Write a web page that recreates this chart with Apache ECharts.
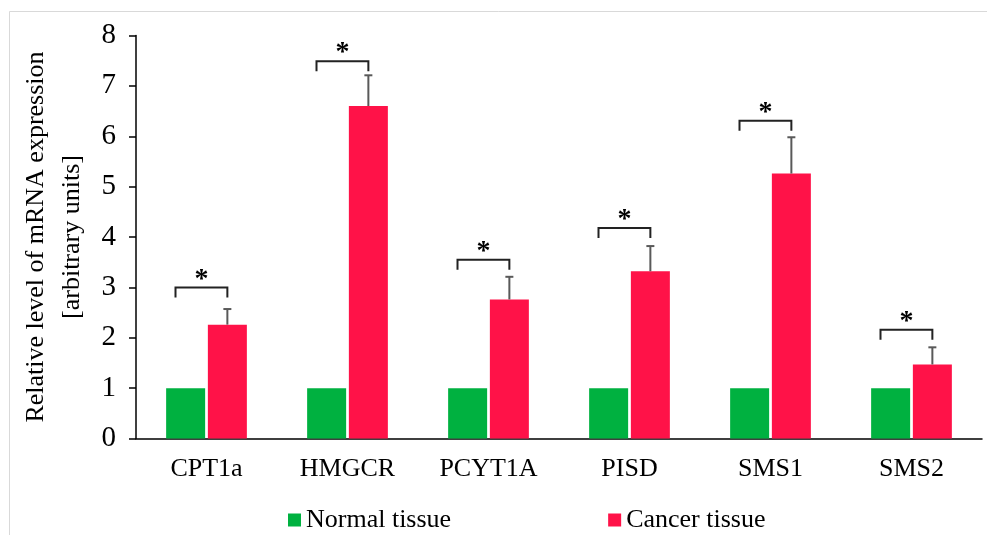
<!DOCTYPE html>
<html>
<head>
<meta charset="utf-8">
<script src="https://cdn.jsdelivr.net/npm/echarts@6/dist/echarts.min.js"></script>
<style>
  html, body { margin: 0; padding: 0; background: #fff; }
  #chart { width: 987px; height: 535px; }
</style>
</head>
<body>
<div id="chart"></div>
<script>
var genes = ['CPT1a', 'HMGCR', 'PCYT1A', 'PISD', 'SMS1', 'SMS2'];
var normalTissue = [1, 1, 1, 1, 1, 1];
var cancerTissue = [2.26, 6.60, 2.76, 3.32, 5.26, 1.47];
var cancerSD = [0.31, 0.61, 0.45, 0.50, 0.72, 0.34];
var bracketLevel = [3.0, 7.49, 3.55, 4.18, 6.31, 2.16];
var yTicks = [0, 1, 2, 3, 4, 5, 6, 7, 8];

(function () {
    var chart = echarts.init(document.getElementById('chart'));
    var font = '"Liberation Serif", "Times New Roman", serif';
    var barW = 39;
    var gapPct = 7;
    // 红柱中心相对类目中心的偏移
    var redShift = (barW + barW * gapPct / 100) / 2;

    var errData = genes.map(function (g, i) {
        return [i, cancerTissue[i], cancerTissue[i] + cancerSD[i]];
    });
    var sigData = genes.map(function (g, i) {
        return [i, bracketLevel[i]];
    });

    var option = {
        backgroundColor: '#fff',
        animation: false,
        graphic: [
            {
                type: 'rect',
                shape: { x: 9.5, y: 11.5, width: 1200, height: 800 },
                style: { fill: 'none', stroke: '#d9d9d9', lineWidth: 1 },
                silent: true
            }
        ],
        grid: {
            left: 136,
            right: 5,
            top: 35.5,
            bottom: 96.5
        },
        legend: {
            left: 283,
            top: 502,
            itemWidth: 13,
            itemHeight: 13,
            itemGap: 157,
            icon: 'rect',
            textStyle: { fontFamily: font, fontSize: 26, color: '#000' },
            data: ['Normal tissue', 'Cancer tissue']
        },
        xAxis: {
            type: 'category',
            data: genes,
            axisTick: { show: false },
            axisLine: { lineStyle: { color: '#000', width: 1.5 } },
            axisLabel: { fontFamily: font, fontSize: 26, color: '#000', margin: 18 }
        },
        yAxis: {
            type: 'value',
            min: yTicks[0],
            max: yTicks[yTicks.length - 1],
            interval: 1,
            name: 'Relative level of mRNA expression\n[arbitrary units]',
            nameLocation: 'middle',
            nameRotate: 90,
            nameGap: 41,
            nameTextStyle: { fontFamily: font, fontSize: 26, color: '#000', lineHeight: 36 },
            splitLine: { show: false },
            axisLine: { show: true, lineStyle: { color: '#000', width: 1.5 } },
            axisTick: { show: true, length: 7, lineStyle: { color: '#000', width: 1.5 } },
            axisLabel: { fontFamily: font, fontSize: 29, color: '#000', margin: 20 }
        },
        series: [
            {
                name: 'Normal tissue',
                type: 'bar',
                barWidth: barW,
                barGap: gapPct + '%',
                itemStyle: { color: '#00b140' },
                data: normalTissue
            },
            {
                name: 'Cancer tissue',
                type: 'bar',
                barWidth: barW,
                barGap: gapPct + '%',
                itemStyle: { color: '#ff1248' },
                data: cancerTissue
            },
            {
                // 误差线
                type: 'custom',
                data: errData,
                z: 5,
                encode: { x: 0, y: [1, 2] },
                renderItem: function (params, api) {
                    var i = api.value(0);
                    var base = api.coord([i, api.value(1)]);
                    var top = api.coord([i, api.value(2)]);
                    var x = base[0] + redShift;
                    var st = { stroke: '#595959', lineWidth: 2 };
                    return {
                        type: 'group',
                        children: [
                            { type: 'line', shape: { x1: x, y1: base[1], x2: x, y2: top[1] }, style: st },
                            { type: 'line', shape: { x1: x - 4, y1: top[1], x2: x + 4, y2: top[1] }, style: st }
                        ]
                    };
                }
            },
            {
                // 显著性标记
                type: 'custom',
                data: sigData,
                z: 5,
                encode: { x: 0, y: 1 },
                renderItem: function (params, api) {
                    var i = api.value(0);
                    var p = api.coord([i, api.value(1)]);
                    var x1 = p[0] - 31;
                    var x2 = p[0] + redShift;
                    var y = p[1];
                    var st = { stroke: '#222', lineWidth: 2, fill: 'none' };
                    return {
                        type: 'group',
                        children: [
                            {
                                type: 'polyline',
                                shape: { points: [[x1, y + 10], [x1, y], [x2, y], [x2, y + 10]] },
                                style: st
                            },
                            {
                                type: 'text',
                                x: (x1 + x2) / 2,
                                y: y - 8,
                                style: {
                                    text: '*',
                                    font: 'bold 28px ' + font,
                                    fill: '#000',
                                    textAlign: 'center',
                                    textVerticalAlign: 'middle'
                                }
                            }
                        ]
                    };
                }
            }
        ]
    };
    chart.setOption(option);
})();
</script>
</body>
</html>
